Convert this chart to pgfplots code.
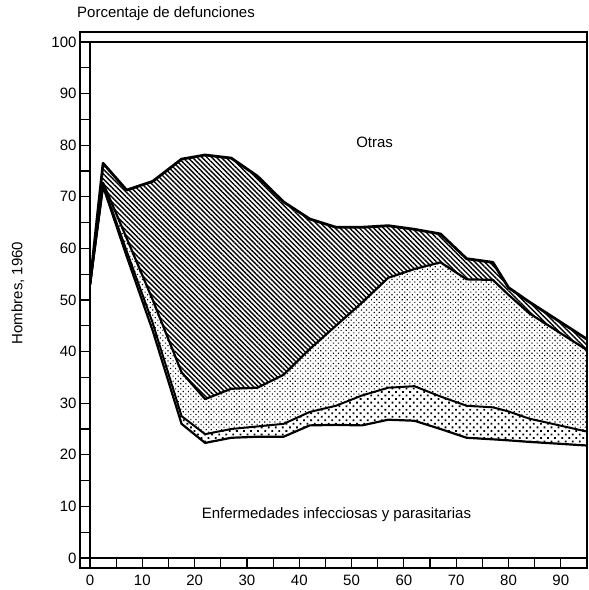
\documentclass[border=0pt]{standalone}
\usepackage{fontspec}
\setmainfont{Liberation Sans}
\usepackage{pgfplots}
\pgfplotsset{compat=1.18}
\usepackage{pgfplotstable}
\usepgfplotslibrary{fillbetween}
\usetikzlibrary{patterns.meta}

% cumulative percentages (upper edge of each band)
\pgfplotstableread{
edad infec  bandaA bandaB total
0    53.0   53.0   53.0   53.0
2.5  72.0   72.3   72.7   76.5
7    58.5   59.5   62.0   71.3
12   44.0   45.5   50.0   73.0
17.5 26.0   27.5   36.0   77.3
22   22.3   24.0   30.8   78.1
27   23.3   25.0   32.8   77.5
32   23.5   25.5   33.0   74.0
37   23.5   26.0   35.5   69.0
42   25.7   28.3   40.5   65.7
47   25.8   29.5   45.0   64.1
52   25.7   31.5   49.5   64.1
57   26.8   33.0   54.3   64.4
62   26.6   33.3   56.0   63.7
67   25.0   31.3   57.3   62.8
72   23.3   29.5   54.0   58.0
77   23.0   29.2   53.9   57.3
80   22.8   28.4   51.0   52.4
84   22.5   27.0   47.4   49.6
95   21.8   24.5   40.3   42.4
}\defunciones

\begin{document}
\begin{tikzpicture}[font=\fontsize{15}{18}\selectfont]
\begin{axis}[
  at={(0,0)}, anchor=south west,
  scale only axis, width=497pt, height=516pt,
  xmin=0, xmax=95, ymin=0, ymax=100,
  xtick={0,10,...,90}, minor xtick={5,15,...,95},
  ytick={0,10,...,100}, minor ytick={5,15,...,95},
  xtick pos=left, ytick pos=left,
  tick align=outside,
  major tick length=10pt, minor tick length=10pt,
  tick style={black, line width=1.2pt},
  axis line style={line width=1.8pt},
  tick label style={font=\fontsize{15}{18}\selectfont},
  xticklabel style={yshift=-3.5pt},
  /pgf/number format/assume math mode=true,
]
\addplot[draw=none, name path=infec] table[x=edad, y=infec] {\defunciones};
\addplot[draw=none, name path=bandaA] table[x=edad, y=bandaA] {\defunciones};
\addplot[draw=none, name path=bandaB] table[x=edad, y=bandaB] {\defunciones};
\addplot[draw=none, name path=total] table[x=edad, y=total] {\defunciones};

\addplot[pattern={Dots[distance=5pt, radius=1.25pt, angle=45]}] fill between[of=bandaA and infec];
\addplot[pattern={Dots[distance=3.6pt, radius=0.8pt, angle=45]}] fill between[of=bandaB and bandaA];
\addplot[pattern={Lines[angle=-45, distance=3.4pt, line width=1.4pt]}] fill between[of=total and bandaB];

\addplot[black, line width=2.2pt, line join=round] table[x=edad, y=infec] {\defunciones};
\addplot[black, line width=2pt, line join=round] table[x=edad, y=bandaA] {\defunciones};
\addplot[black, line width=2.2pt, line join=round] table[x=edad, y=bandaB] {\defunciones};
\addplot[black, line width=2.8pt, line join=round] table[x=edad, y=total] {\defunciones};

\node at (axis cs:54.4,80.6) {Otras};
\node at (axis cs:47.1,8.5) {Enfermedades infecciosas y parasitarias};
\end{axis}
% outer rails of the ladder frame
\draw[line width=1.8pt] (-10pt,526pt) -- (-10pt,-10pt) -- (497pt,-10pt) -- (497pt,526pt) -- cycle;
\node[anchor=base west, inner sep=0pt] at (-13pt,540pt) {Porcentaje de defunciones};
\node[rotate=90] at (-72pt,265pt) {Hombres, 1960};
\pgfresetboundingbox
\path[use as bounding box] (-90pt,-32pt) rectangle (499pt,558pt);
\end{tikzpicture}
\end{document}
